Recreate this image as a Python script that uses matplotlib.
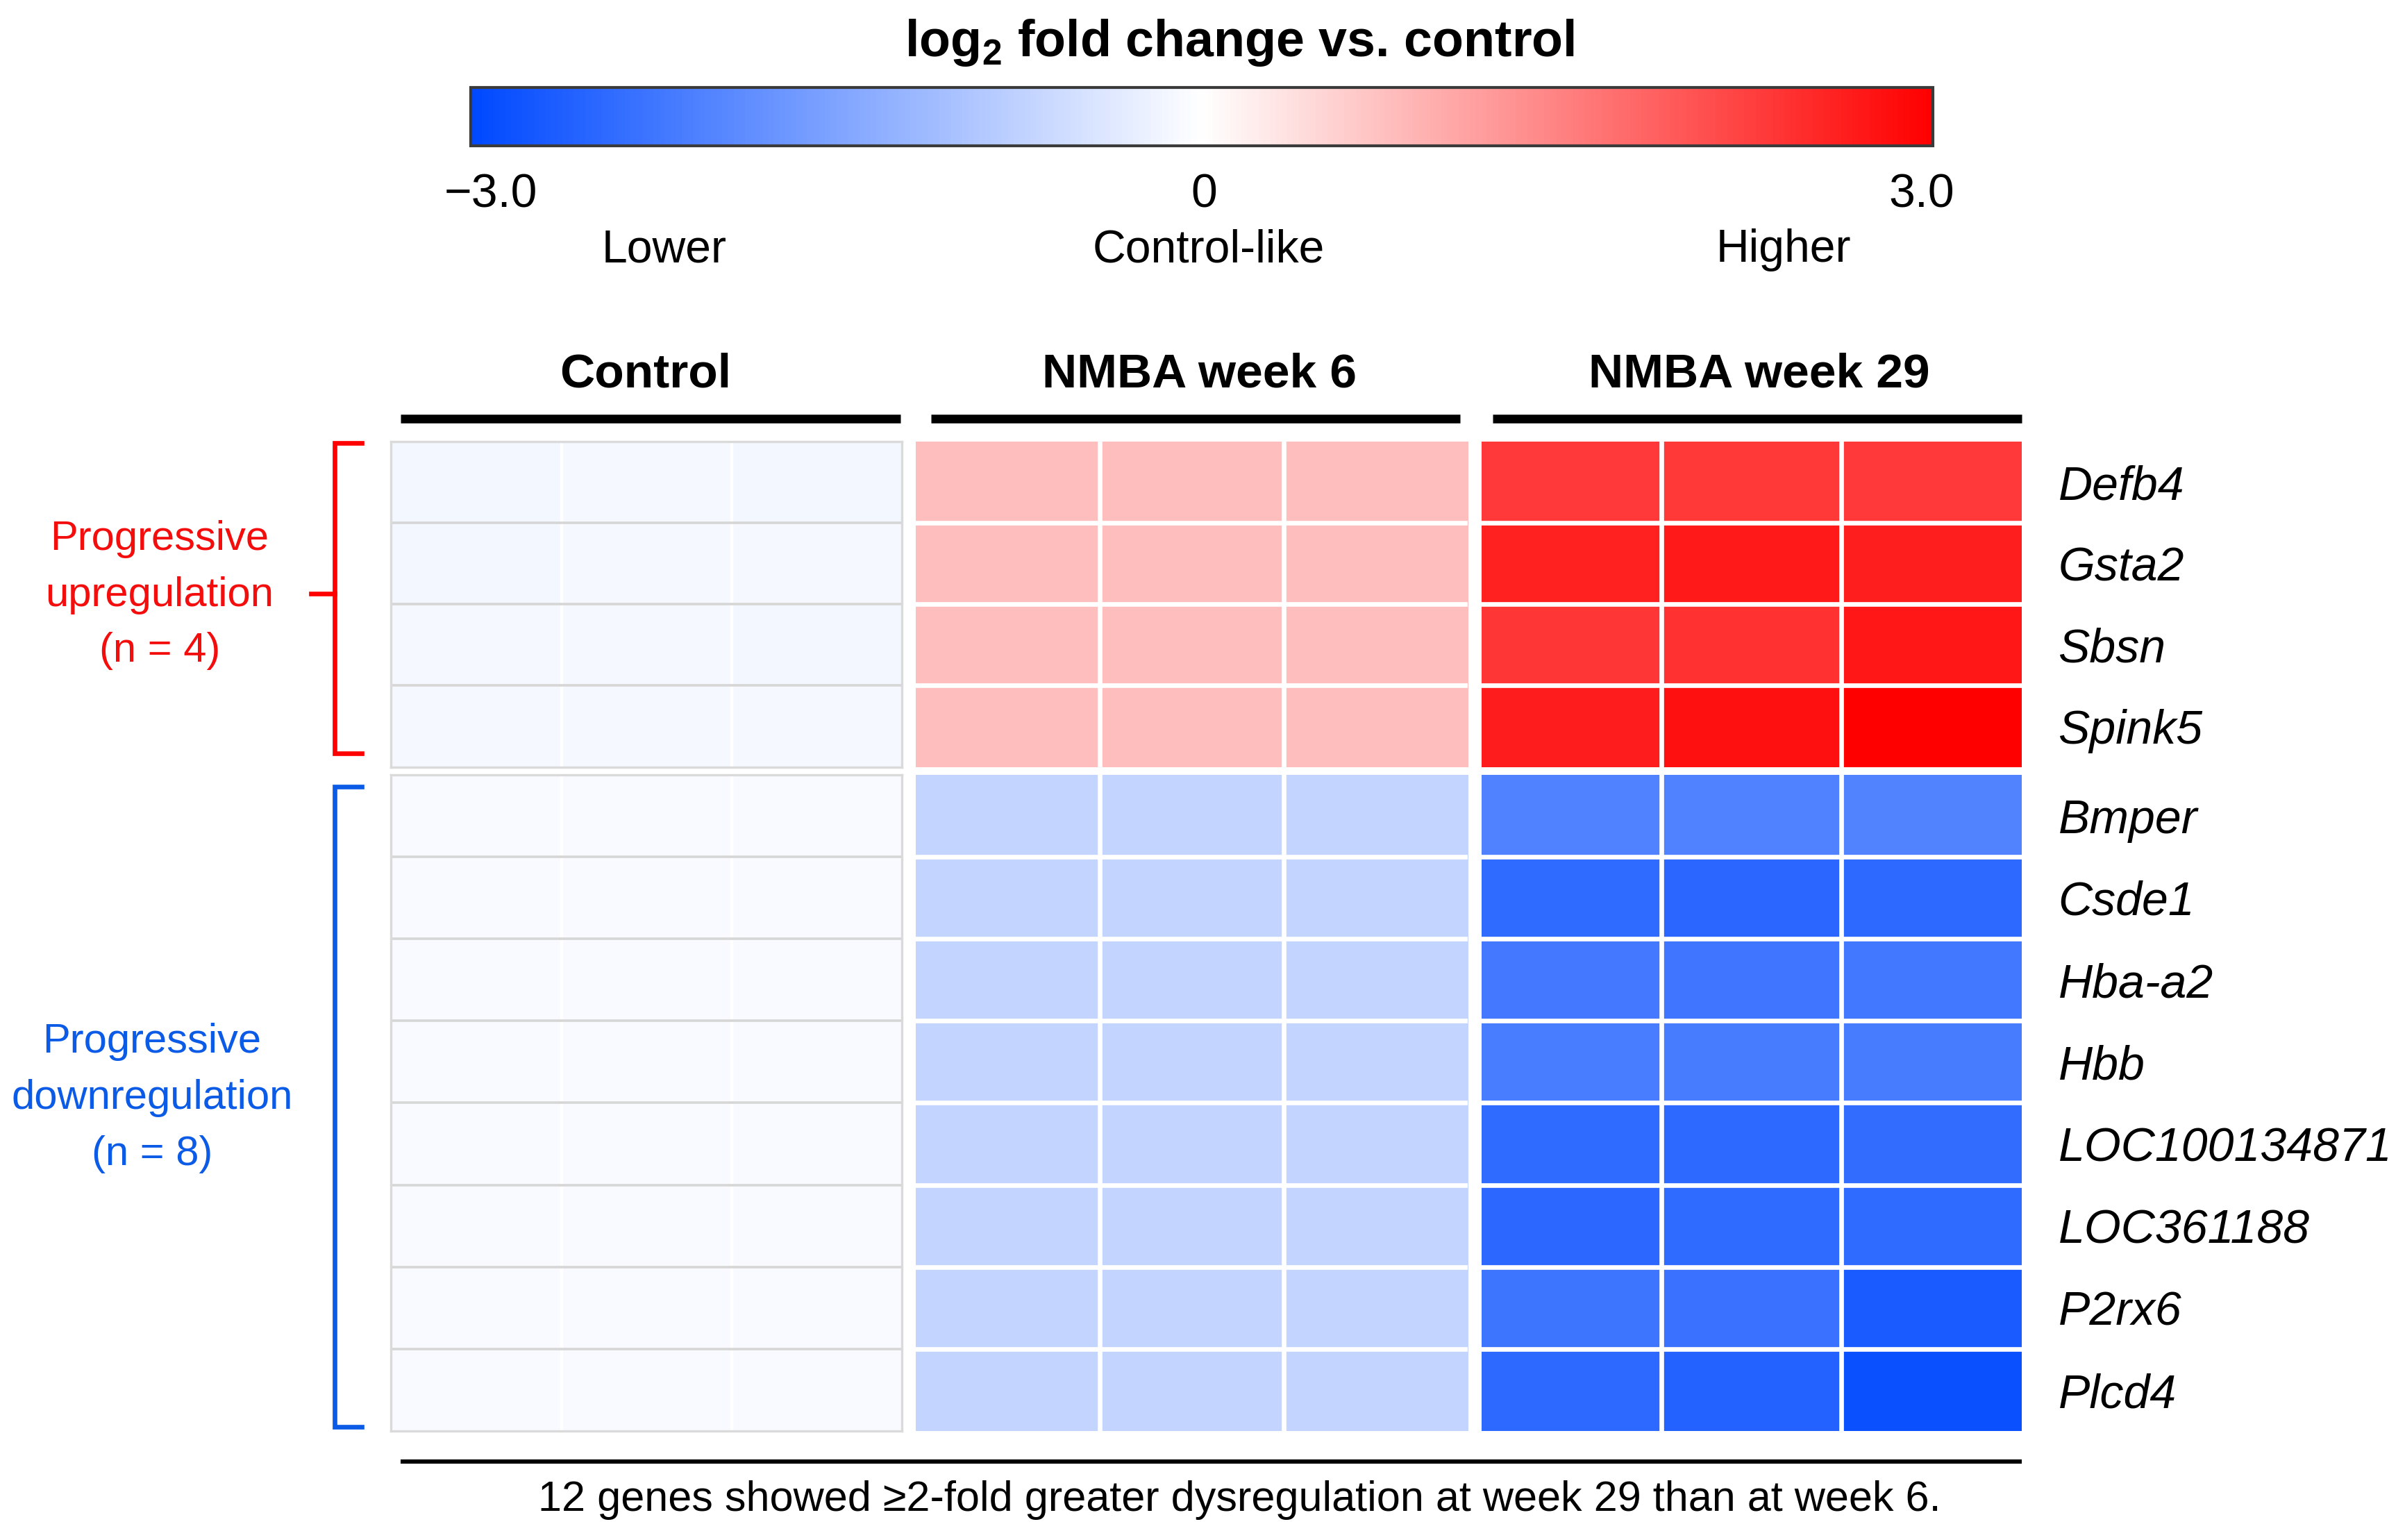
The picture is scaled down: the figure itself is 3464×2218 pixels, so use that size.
import numpy as np
import matplotlib
matplotlib.use("Agg")
import matplotlib.pyplot as plt
from matplotlib.colors import LinearSegmentedColormap, Normalize
from matplotlib.cm import ScalarMappable

plt.rcParams['font.family'] = ['Liberation Sans', 'DejaVu Sans']
plt.rcParams['mathtext.fontset'] = 'custom'
plt.rcParams['mathtext.rm'] = 'Liberation Sans:bold'
plt.rcParams['mathtext.bf'] = 'Liberation Sans:bold'

# ---------------- data ----------------
genes = ["Defb4", "Gsta2", "Sbsn", "Spink5", "Bmper", "Csde1", "Hba-a2", "Hbb",
         "LOC100134871", "LOC361188", "P2rx6", "Plcd4"]
groups = ["Control", "NMBA week 6", "NMBA week 29"]
cluster_labels = ["Progressive\nupregulation\n(n = 4)",
                  "Progressive\ndownregulation\n(n = 8)"]
cluster_sizes = [4, 8]

control = [
    [-0.12, -0.11, -0.12],
    [-0.12, -0.11, -0.11],
    [-0.11, -0.11, -0.12],
    [-0.11, -0.11, -0.11],
    [-0.09, -0.09, -0.09],
    [-0.09, -0.09, -0.08],
    [-0.08, -0.08, -0.08],
    [-0.08, -0.08, -0.08],
    [-0.08, -0.08, -0.08],
    [-0.08, -0.08, -0.08],
    [-0.09, -0.08, -0.09],
    [-0.09, -0.08, -0.09],
]
week6 = [
    [0.76, 0.76, 0.75],
    [0.75, 0.75, 0.76],
    [0.76, 0.75, 0.75],
    [0.76, 0.76, 0.75],
    [-0.68, -0.69, -0.68],
    [-0.68, -0.68, -0.68],
    [-0.68, -0.69, -0.68],
    [-0.69, -0.68, -0.68],
    [-0.69, -0.68, -0.69],
    [-0.69, -0.68, -0.68],
    [-0.68, -0.68, -0.69],
    [-0.70, -0.69, -0.69],
]
week29 = [
    [2.32, 2.33, 2.32],
    [2.62, 2.68, 2.64],
    [2.36, 2.40, 2.72],
    [2.65, 2.80, 3.00],
    [-2.05, -2.05, -2.02],
    [-2.42, -2.50, -2.45],
    [-2.20, -2.25, -2.22],
    [-2.13, -2.15, -2.15],
    [-2.42, -2.45, -2.40],
    [-2.48, -2.43, -2.43],
    [-2.27, -2.32, -2.68],
    [-2.46, -2.56, -2.88],
]
cbar_ticklabels = ["\u22123.0", "0", "3.0"]
cbar_words = ["Lower", "Control-like", "Higher"]
footnote = "12 genes showed \u22652-fold greater dysregulation at week 29 than at week 6."

# ---------------- style ----------------
cmap = LinearSegmentedColormap.from_list("bwr_custom", ["#0049FF", "#FFFFFF", "#FF0000"])
norm = Normalize(-3.0, 3.0)
RED = "#F40D0D"
BLUE = "#0B5BE6"

W, H = 1568, 1004
fig = plt.figure(figsize=(17.32, 11.09), dpi=200)
fig.patch.set_facecolor("white")


def box(x0, y0, x1, y1):
    return [x0 / W, 1 - y1 / H, (x1 - x0) / W, (y1 - y0) / H]


canvas = fig.add_axes([0, 0, 1, 1])
canvas.set_xlim(0, W)
canvas.set_ylim(H, 0)
canvas.axis("off")

# ---------------- heatmap blocks ----------------
data = [np.array(control), np.array(week6), np.array(week29)]
col_x = [(255, 588), (597, 957), (966, 1318)]
row_y = [(288, 500), (505, 933)]
starts = np.cumsum([0] + cluster_sizes)

for b, (y0, y1) in enumerate(row_y):
    r0, r1 = starts[b], starts[b + 1]
    n = r1 - r0
    for g, (x0, x1) in enumerate(col_x):
        ax = fig.add_axes(box(x0, y0, x1, y1))
        ax.imshow(data[g][r0:r1], cmap=cmap, norm=norm, aspect="auto",
                  interpolation="nearest")
        ax.set_xticks([])
        ax.set_yticks([])
        if g == 0:
            for k in range(2):
                ax.axvline(k + 0.5, color="white", lw=1.6)
            for r in range(n - 1):
                ax.axhline(r + 0.5, color="#D6D6D6", lw=1.3)
            for s in ax.spines.values():
                s.set_color("#DADADA")
                s.set_linewidth(1.2)
        else:
            for k in range(2):
                ax.axvline(k + 0.5, color="white", lw=2.4)
            for r in range(n - 1):
                ax.axhline(r + 0.5, color="white", lw=2.4)
            for s in ax.spines.values():
                s.set_visible(False)
        if g == 2:
            ax.yaxis.tick_right()
            ax.set_yticks(range(n))
            ax.set_yticklabels(genes[r0:r1], fontstyle="italic", fontsize=24.5)
            ax.tick_params(axis="y", length=0, pad=19)

# ---------------- colorbar ----------------
cax = fig.add_axes(box(307, 57, 1260, 95))
cb = fig.colorbar(ScalarMappable(norm=norm, cmap=cmap), cax=cax, orientation="horizontal")
cb.set_ticks([])
cb.outline.set_linewidth(1.5)
cb.outline.set_edgecolor("#3A3A3A")

canvas.text(808, 28, "log$_2$ fold change vs. control", ha="center", va="center",
            fontsize=26.5, fontweight="bold")
for x, lab in zip([320, 785, 1253], cbar_ticklabels):
    canvas.text(x, 127, lab, ha="center", va="center", fontsize=24.5)
for x, lab in zip([433, 788, 1163], cbar_words):
    canvas.text(x, 163, lab, ha="center", va="center", fontsize=23.8)

# ---------------- group headers ----------------
for (x0, x1), gx, lab in zip([(261, 587), (607, 952), (973, 1318)], [421, 782, 1147], groups):
    canvas.text(gx, 244, lab, ha="center", va="center", fontsize=25, fontweight="bold")
    canvas.plot([x0, x1], [273, 273], color="black", lw=4.5, solid_capstyle="butt")

# ---------------- cluster brackets ----------------
canvas.plot([236, 218, 218, 236], [289, 289, 491, 491], color="#FF0000", lw=2.4,
            solid_joinstyle="miter")
canvas.plot([203, 218], [387, 387], color="#FF0000", lw=2.4)
canvas.text(104, 388, cluster_labels[0], ha="center", va="center", fontsize=21.5,
            color=RED, linespacing=1.6)
canvas.plot([236, 218, 218, 236], [513, 513, 930, 930], color=BLUE, lw=2.4,
            solid_joinstyle="miter")
canvas.text(99, 716, cluster_labels[1], ha="center", va="center", fontsize=21.5,
            color=BLUE, linespacing=1.6)

# ---------------- footer ----------------
canvas.plot([261, 1318], [953, 953], color="black", lw=2.2, solid_capstyle="butt")
canvas.text(808, 978, footnote, ha="center", va="center", fontsize=22)

fig.savefig("out.png", dpi=200, facecolor="white")
